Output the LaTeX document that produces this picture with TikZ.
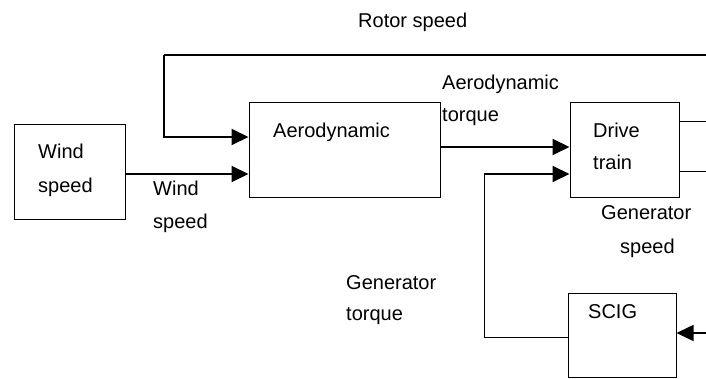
\documentclass[tikz,border=0pt]{standalone}
\usepackage{fontspec}
\setmainfont{Liberation Sans}
\usetikzlibrary{arrows.meta}
\begin{document}
\begin{tikzpicture}[x=1pt,y=-1pt,
  box/.style={draw, line width=1pt, inner sep=0pt},
  lbl/.style={anchor=base west, inner sep=0pt, font=\fontsize{20}{24}\selectfont},
  sig/.style={line width=2pt, -{Triangle[length=17pt,width=16pt]}},
  thinline/.style={line width=1pt}]
\useasboundingbox (0,0) rectangle (706,379);
% boxes
\node[box, minimum width=111pt, minimum height=95pt] (ws) at (69.5,172.5) {};
\node[box, minimum width=191pt, minimum height=95pt] (aero) at (344.5,150.5) {};
\node[box, minimum width=109pt, minimum height=95pt] (dt) at (624.5,150.5) {};
\node[box, minimum width=108pt, minimum height=84pt] (scig) at (622,335) {};
% texts
\node[lbl] (t1) at (38,159) {Wind};
\node[lbl] (t2) at (38,193) {speed};
\node[lbl] (t3) at (153,196) {Wind};
\node[lbl] (t4) at (153,229) {speed};
\node[lbl] (t5) at (273,138) {Aerodynamic};
\node[lbl] (t6) at (442,90) {Aerodynamic};
\node[lbl] (t7) at (442,122) {torque};
\node[lbl] (t8) at (593,138) {Drive};
\node[lbl] (t9) at (593,170) {train};
\node[lbl] (t10) at (601,220) {Generator};
\node[lbl] (t11) at (620,253) {speed};
\node[lbl] (t12) at (346,289) {Generator};
\node[lbl] (t13) at (346,320) {torque};
\node[lbl] (t14) at (588,318) {SCIG};
\node[lbl] (t15) at (358,28) {Rotor speed};
% free ends
\coordinate (rsR) at (706,55);
\coordinate (fbL) at (164,55);
\coordinate (gtB) at (484,337);
\coordinate (gtT) at (484,174);
\coordinate (o1) at (706,122);
\coordinate (o2) at (706,172);
\coordinate (scR) at (706,333);
% connectors
\draw[sig] ([yshift=-1.5pt]ws.east) -- ([yshift=-23.5pt]aero.west);
\draw[line width=2pt] (rsR) -- (fbL);
\draw[sig] (fbL) |- ([yshift=13.5pt]aero.west);
\draw[sig] ([yshift=3.5pt]aero.east) -- ([yshift=3.5pt]dt.west);
\draw[thinline] ([yshift=-2pt]scig.west) -- (gtB) -- (gtT);
\draw[sig] (gtT) -- ([yshift=-23.5pt]dt.west);
\draw[thinline] ([yshift=28.5pt]dt.east) -- (o1);
\draw[thinline] ([yshift=-21.5pt]dt.east) -- (o2);
\draw[sig, line width=1.7pt] (scR) -- (scig.east |- scR);
\end{tikzpicture}
\end{document}
